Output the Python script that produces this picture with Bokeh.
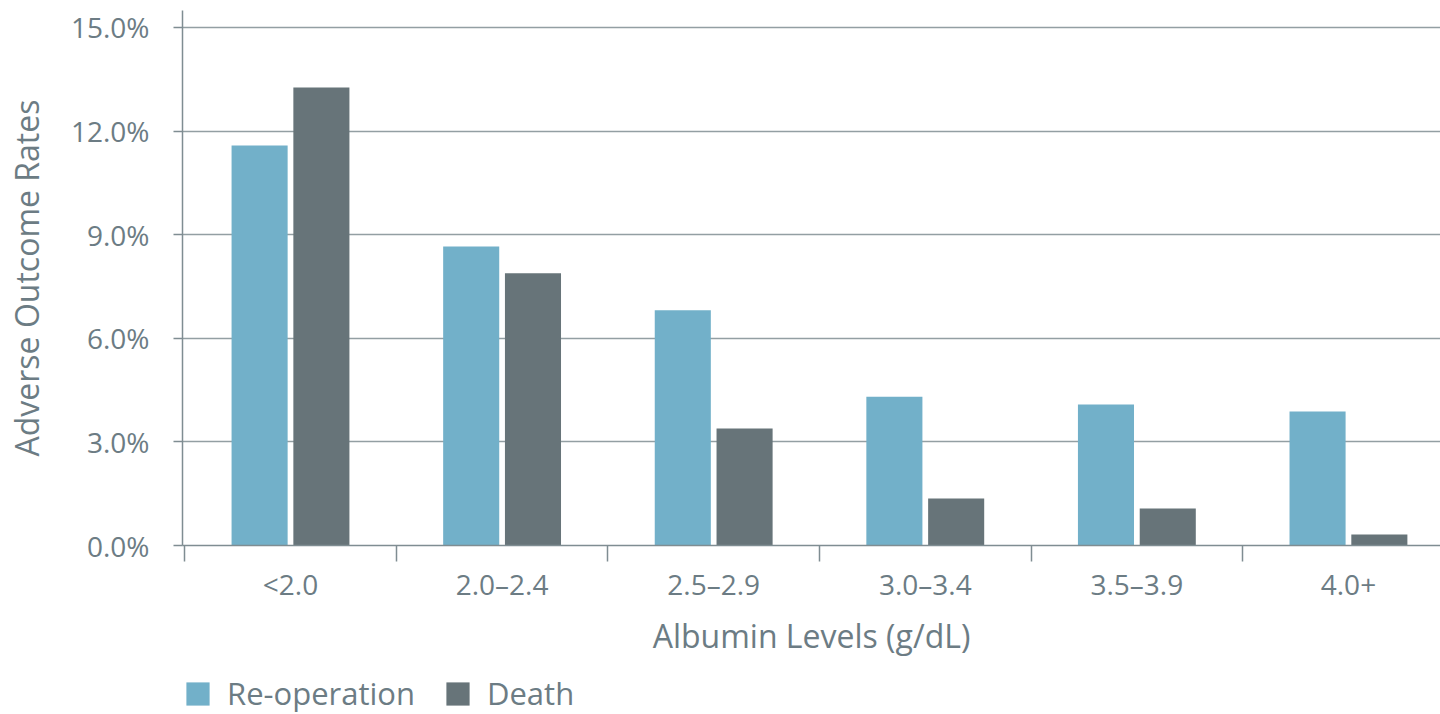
from bokeh.plotting import figure
from bokeh.layouts import column
from bokeh.models import (FixedTicker, Legend, LegendItem, ColumnDataSource,
                          PrintfTickFormatter, Range1d)
from bokeh.transform import dodge
from bokeh.embed import file_html
from bokeh.resources import INLINE

categories = ["<2.0", "2.0–2.4", "2.5–2.9", "3.0–3.4", "3.5–3.9", "4.0+"]
reoperation = [11.58, 8.66, 6.81, 4.31, 4.08, 3.88]
death = [13.26, 7.88, 3.39, 1.36, 1.07, 0.32]
y_ticks = [0, 3, 6, 9, 12, 15]
series_names = ["Re-operation", "Death"]

BLUE = "#72b0c9"
SLATE = "#677479"
TEXT = "#6c7c84"
AXIS = "#7f8d92"
GRID = "#939fa3"
FONT = "Open Sans"

idx = list(range(len(categories)))
src = ColumnDataSource(dict(x=idx, re=reoperation, death=death))

p = figure(width=1440, height=659,
           x_range=Range1d(-0.5104, 5.435), y_range=Range1d(0, 15.49),
           output_backend="svg", toolbar_location=None,
           min_border_left=182, min_border_right=0, min_border_top=10,
           min_border_bottom=114)
p.outline_line_color = None
p.background_fill_color = "white"
p.border_fill_color = "white"

r1 = p.vbar(x=dodge("x", -0.146), top="re", width=0.265, source=src,
            fill_color=BLUE, line_color=None)
r2 = p.vbar(x=dodge("x", 0.146), top="death", width=0.265, source=src,
            fill_color=SLATE, line_color=None)

# x axis
xa = p.xaxis[0]
xa.ticker = FixedTicker(ticks=idx, minor_ticks=[i - 0.5 for i in range(len(categories) + 1)])
xa.major_label_overrides = {i: c for i, c in zip(idx, categories)}
xa.major_tick_out = 0
xa.major_tick_in = 0
xa.minor_tick_out = 16
xa.minor_tick_in = 0
xa.minor_tick_line_color = AXIS
xa.minor_tick_line_width = 1.5
xa.axis_line_color = AXIS
xa.axis_line_width = 1.5
xa.major_label_text_font = FONT
xa.major_label_text_font_size = "28px"
xa.major_label_text_color = TEXT
xa.major_label_standoff = 3
xa.axis_label = "Albumin Levels (g/dL)"
xa.axis_label_text_font = FONT
xa.axis_label_text_font_size = "32px"
xa.axis_label_text_font_style = "normal"
xa.axis_label_text_color = TEXT
xa.axis_label_standoff = 8

# y axis
ya = p.yaxis[0]
ya.ticker = FixedTicker(ticks=y_ticks)
ya.formatter = PrintfTickFormatter(format="%.1f%%")
ya.major_tick_out = 9
ya.major_tick_in = 0
ya.minor_tick_line_color = None
ya.major_tick_line_color = AXIS
ya.major_tick_line_width = 1.5
ya.axis_line_color = AXIS
ya.axis_line_width = 1.5
ya.major_label_text_font = FONT
ya.major_label_text_font_size = "28px"
ya.major_label_text_color = TEXT
ya.major_label_standoff = 24
ya.axis_label = "Adverse Outcome Rates"
ya.axis_label_text_font = FONT
ya.axis_label_text_font_size = "32px"
ya.axis_label_text_font_style = "normal"
ya.axis_label_text_color = TEXT
ya.axis_label_standoff = 20

p.xgrid.grid_line_color = None
p.ygrid.ticker = FixedTicker(ticks=y_ticks)
p.ygrid.grid_line_color = GRID
p.ygrid.grid_line_width = 1.5

# legend strip below the chart (bars fall below its y range, so only the legend shows)
lg = figure(width=1440, height=55, x_range=p.x_range, y_range=Range1d(100, 101),
            output_backend="svg", toolbar_location=None,
            x_axis_location=None, y_axis_location=None,
            min_border_left=0, min_border_right=0, min_border_top=0,
            min_border_bottom=0)
lg.outline_line_color = None
lg.xgrid.visible = False
lg.ygrid.visible = False
lg.background_fill_alpha = 0
k1 = lg.vbar(x=dodge("x", -0.146), top="re", width=0.265, source=src,
             fill_color=BLUE, line_color=None)
k2 = lg.vbar(x=dodge("x", 0.146), top="death", width=0.265, source=src,
             fill_color=SLATE, line_color=None)

legend = Legend(items=[LegendItem(label=series_names[0], renderers=[k1]),
                       LegendItem(label=series_names[1], renderers=[k2])],
                orientation="horizontal", location=(1, 0),
                glyph_width=29, glyph_height=29, label_height=29,
                label_text_font=FONT, label_text_font_size="31px",
                label_text_color=TEXT, spacing=28, label_standoff=15,
                padding=0, margin=0, border_line_alpha=0,
                background_fill_alpha=0)
lg.add_layout(legend, "center")

layout = column(p, lg, spacing=0)
open("out.html", "w").write(file_html(layout, INLINE))
